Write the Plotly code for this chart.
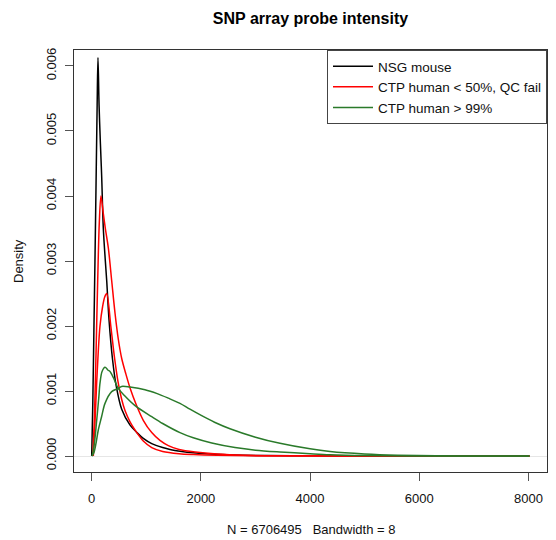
import plotly.graph_objects as go

# ---- data ----
nsg_x = [0, 20, 40, 60, 80, 100, 115, 135, 160, 183, 213, 250, 275, 317, 380, 445, 550, 700, 830, 945, 1100, 1300, 1434, 1650, 1861, 2170, 2600, 3200, 4000, 5000, 8020]
nsg_y = [0, 0.0008, 0.0019, 0.0030, 0.0042, 0.0054, 0.00613, 0.0054, 0.0048, 0.0043, 0.0035, 0.0030, 0.0027, 0.0021, 0.0015, 0.0011, 0.00072, 0.00048, 0.00036, 0.00027, 0.00019, 0.00013, 0.0001, 0.00007, 0.00005, 0.00003, 0.000015, 0.000007, 0.000003, 0.000001, 0]

fail1_x = [20, 50, 80, 110, 140, 170, 213, 250, 305, 366, 427, 487, 550, 620, 701, 820, 945, 1100, 1250, 1404, 1600, 1900, 2300, 2800, 3500, 4500, 8020]
fail1_y = [0, 0.0006, 0.0016, 0.0027, 0.0036, 0.0040, 0.00373, 0.0035, 0.0032, 0.0027, 0.0022, 0.0018, 0.0015, 0.00128, 0.00105, 0.00078, 0.00055, 0.00036, 0.00024, 0.00016, 0.0001, 0.00006, 0.00003, 0.000012, 0.000004, 0.000001, 0]

fail2_x = [30, 60, 90, 120, 152, 200, 240, 275, 350, 420, 487, 550, 610, 700, 793, 945, 1100, 1300, 1600, 1861, 2300, 3000, 8020]
fail2_y = [0, 0.0005, 0.0011, 0.0016, 0.0020, 0.0023, 0.00245, 0.0025, 0.0020, 0.0015, 0.00112, 0.00087, 0.0007, 0.00053, 0.0004, 0.00023, 0.00013, 0.00007, 0.000035, 0.000022, 0.00001, 0.000003, 0]

pass1_x = [10, 50, 92, 130, 152, 190, 244, 300, 335, 400, 487, 600, 800, 1099, 1300, 1617, 1861, 2200, 2625, 3000, 3449, 4000, 4365, 5000, 6000, 8020]
pass1_y = [0, 0.0002, 0.00055, 0.0009, 0.00112, 0.0013, 0.001364, 0.00132, 0.0013, 0.0012, 0.00104, 0.00093, 0.00077, 0.000605, 0.0005, 0.00036, 0.00028, 0.0002, 0.00013, 0.00009, 0.000062, 0.000035, 0.00002, 0.000007, 0.000001, 0]

pass2_x = [5, 40, 80, 121, 180, 244, 366, 487, 549, 700, 976, 1200, 1404, 1617, 1800, 2015, 2250, 2533, 3000, 3449, 4000, 4365, 5000, 5600, 6300, 7000, 8020]
pass2_y = [0, 0.00005, 0.0002, 0.0004, 0.0006, 0.00081, 0.00099, 0.00104, 0.00107, 0.00106, 0.00102, 0.00096, 0.00089, 0.00081, 0.00072, 0.00062, 0.00052, 0.00042, 0.00029, 0.000195, 0.00011, 0.00007, 0.000032, 0.000013, 0.000004, 0.000001, 0]

legend_names = ["NSG mouse", "CTP human < 50%, QC fail", "CTP human > 99%"]
x_ticks = [0, 2000, 4000, 6000, 8000]
y_ticks = [0.000, 0.001, 0.002, 0.003, 0.004, 0.005, 0.006]

RED = "#FF0000"
GREEN = "#2A7A2A"
FONT = "Liberation Sans, Arial, Helvetica, sans-serif"

series = [
    (nsg_x, nsg_y, "black", legend_names[0], True),
    (fail1_x, fail1_y, RED, legend_names[1], True),
    (fail2_x, fail2_y, RED, legend_names[1], False),
    (pass1_x, pass1_y, GREEN, legend_names[2], True),
    (pass2_x, pass2_y, GREEN, legend_names[2], False),
]

fig = go.Figure()
for xs, ys, col, name, show in series:
    fig.add_trace(go.Scatter(
        x=xs, y=ys, mode="lines", name=name, legendgroup=name, showlegend=show,
        line=dict(color=col, width=1.5, shape="spline", smoothing=0.9),
        hoverinfo="skip",
    ))

fig.update_layout(
    width=556, height=540,
    margin=dict(l=74, r=9, t=50, b=68),
    paper_bgcolor="white", plot_bgcolor="white",
    font=dict(family=FONT, size=13, color="#111111"),
    title=dict(text="<b>SNP array probe intensity</b>", x=0.5, xref="paper", xanchor="center",
               y=1 - 18 / 540, yref="container", yanchor="middle",
               font=dict(size=16, family=FONT, color="black")),
    showlegend=True,
    legend=dict(x=1, y=1, xanchor="right", yanchor="top", bgcolor="white",
                bordercolor="#444444", borderwidth=1, font=dict(size=13.5, family=FONT),
                tracegroupgap=0, itemwidth=40),
    xaxis=dict(range=[-324, 8340], tickvals=x_ticks, ticktext=[str(v) for v in x_ticks],
               showgrid=False, zeroline=False, showline=True, mirror=True,
               linecolor="#333333", linewidth=1, ticks="outside", ticklen=8,
               tickcolor="#555555", ticklabelstandoff=6),
    yaxis=dict(range=[-0.000246, 0.006246], tickvals=y_ticks, tickformat=".3f",
               tickangle=-90, showgrid=False, zeroline=True, zerolinecolor="#E6E6E6",
               zerolinewidth=1, showline=True, mirror=True, linecolor="#333333",
               linewidth=1, ticks="outside", ticklen=8, tickcolor="#555555",
               ticklabelstandoff=4),
    annotations=[
        dict(text="Density", xref="paper", yref="paper", x=(18 - 74) / 473, y=0.5,
             textangle=-90, showarrow=False, xanchor="center", yanchor="middle",
             font=dict(size=13, family=FONT, color="#111111")),
        dict(text="N = 6706495   Bandwidth = 8", xref="paper", yref="paper",
             x=0.5, y=(472 - 529) / 422, showarrow=False, xanchor="center",
             yanchor="middle", font=dict(size=13, family=FONT, color="#111111")),
    ],
)

fig.write_html("out.html")
